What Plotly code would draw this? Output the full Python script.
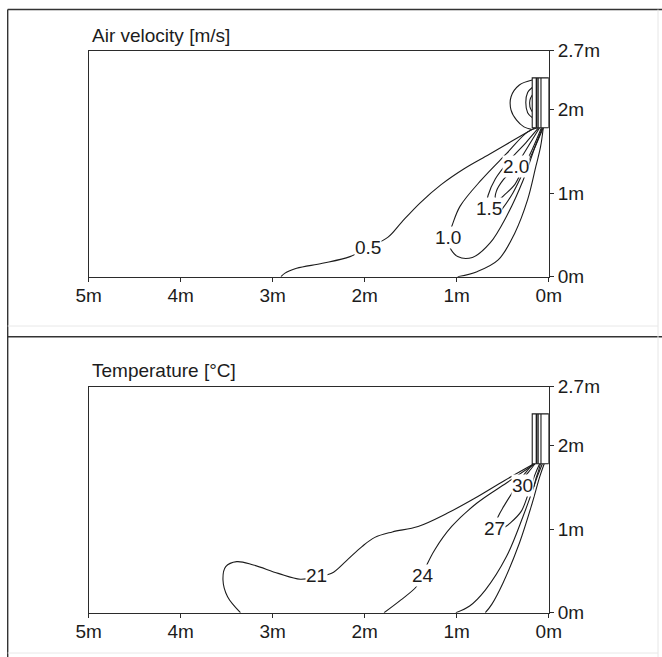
import plotly.graph_objects as go

# ---------------- tick labels ----------------
X_TICK_VALS = [5, 4, 3, 2, 1, 0]
X_TICK_TEXT = ["5m", "4m", "3m", "2m", "1m", "0m"]
Y_TICK_VALS = [0, 1, 2, 2.7]
Y_TICK_TEXT = ["0m", "1m", "2m", "2.7m"]

# ---------------- wall unit (distance from wall, height) ----------------
UNIT_X = [0.0, 0.18]
UNIT_Y = [1.78, 2.375]
UNIT_SLAT_X = [0.135, 0.117, 0.085]

# ---------------- air velocity isolines [m/s] ----------------
VEL_05_OUTER_X = [0.15, 0.40, 0.65, 0.92, 1.17, 1.40, 1.60, 1.75, 1.96, 2.16, 2.46, 2.74, 2.87, 2.91]
VEL_05_OUTER_Y = [1.78, 1.62, 1.46, 1.29, 1.10, 0.88, 0.65, 0.47, 0.35, 0.24, 0.16, 0.10, 0.04, 0.00]
VEL_05_INNER_X = [0.06, 0.09, 0.14, 0.23, 0.37, 0.55, 0.78, 0.99]
VEL_05_INNER_Y = [1.78, 1.55, 1.32, 0.92, 0.52, 0.20, 0.06, 0.00]
VEL_10_X = [0.12, 0.23, 0.46, 0.73, 0.965, 1.055, 1.10, 1.08, 0.99, 0.83, 0.64, 0.46, 0.28, 0.15, 0.07]
VEL_10_Y = [1.78, 1.73, 1.47, 1.16, 0.84, 0.60, 0.47, 0.36, 0.24, 0.23, 0.40, 0.72, 1.15, 1.55, 1.78]
VEL_15_X = [0.11, 0.25, 0.42, 0.58, 0.66, 0.68, 0.66, 0.60, 0.50, 0.39, 0.29, 0.17, 0.06]
VEL_15_Y = [1.78, 1.60, 1.40, 1.17, 0.97, 0.84, 0.72, 0.70, 0.82, 1.00, 1.22, 1.50, 1.78]
VEL_20_X = [0.10, 0.20, 0.30, 0.37, 0.50, 0.57, 0.58, 0.55, 0.47, 0.37, 0.29, 0.18, 0.08]
VEL_20_Y = [1.78, 1.60, 1.42, 1.30, 1.15, 1.02, 0.94, 0.92, 0.99, 1.10, 1.27, 1.52, 1.78]
VEL_LOBE_OUTER_X = [0.18, 0.32, 0.41, 0.41, 0.35, 0.27, 0.19]
VEL_LOBE_OUTER_Y = [2.35, 2.29, 2.15, 1.99, 1.87, 1.79, 1.76]
VEL_LOBE_MID_X = [0.18, 0.23, 0.25, 0.23, 0.18]
VEL_LOBE_MID_Y = [2.26, 2.20, 2.08, 1.96, 1.90]
VEL_LOBE_INNER_X = [0.18, 0.205, 0.205, 0.18]
VEL_LOBE_INNER_Y = [2.17, 2.11, 2.03, 1.97]

VEL_LABELS = ["0.5", "1.0", "1.5", "2.0"]
VEL_LABEL_X = [1.96, 1.10, 0.655, 0.356]
VEL_LABEL_Y = [0.35, 0.47, 0.817, 1.317]

# ---------------- temperature isolines [°C] ----------------
TMP_21_X = [0.175, 0.48, 0.80, 1.10, 1.42, 1.70, 1.89, 2.03, 2.20, 2.36, 2.52, 2.70, 2.94, 3.21, 3.39, 3.51, 3.54, 3.49, 3.35]
TMP_21_Y = [1.77, 1.58, 1.37, 1.19, 1.03, 0.965, 0.90, 0.79, 0.62, 0.47, 0.43, 0.40, 0.47, 0.57, 0.61, 0.55, 0.39, 0.19, 0.00]
TMP_24_X = [0.15, 0.46, 0.78, 1.055, 1.24, 1.33, 1.37, 1.44, 1.61, 1.79]
TMP_24_Y = [1.78, 1.55, 1.31, 1.03, 0.75, 0.56, 0.45, 0.31, 0.15, 0.00]
TMP_A_X = [0.07, 0.12, 0.19, 0.28, 0.46, 0.69, 0.86, 1.01]
TMP_A_Y = [1.78, 1.64, 1.42, 1.15, 0.67, 0.27, 0.08, 0.00]
TMP_B_X = [0.05, 0.10, 0.18, 0.32, 0.50, 0.62, 0.69]
TMP_B_Y = [1.78, 1.62, 1.31, 0.83, 0.35, 0.10, 0.00]
TMP_27_X = [0.17, 0.31, 0.40, 0.49, 0.55, 0.59, 0.55, 0.48, 0.42, 0.30, 0.22, 0.15, 0.10]
TMP_27_Y = [1.78, 1.59, 1.43, 1.27, 1.15, 1.02, 0.98, 1.02, 1.07, 1.21, 1.43, 1.65, 1.78]
TMP_30_X = [0.15, 0.22, 0.28, 0.31, 0.27, 0.21, 0.17, 0.14, 0.11, 0.09]
TMP_30_Y = [1.78, 1.68, 1.60, 1.53, 1.46, 1.45, 1.49, 1.60, 1.70, 1.78]

TMP_LABELS = ["21", "24", "27", "30"]
TMP_LABEL_X = [2.52, 1.364, 0.59, 0.286]
TMP_LABEL_Y = [0.44, 0.45, 1.008, 1.52]

# ---------------- styling ----------------
FONT = "Liberation Sans, Arial, Helvetica, sans-serif"
INK = "#1c1c1c"
AXIS = "#2b2b2b"
FS = 19

W, H = 662, 657
PLOT_X = [88.6 / W, 548.8 / W]
TOP_Y = [1 - 276.7 / H, 1 - 50.7 / H]
BOT_Y = [1 - 612.7 / H, 1 - 386.7 / H]

fig = go.Figure()


def curve(xs, ys, xa, ya):
    fig.add_trace(go.Scatter(
        x=xs, y=ys, mode="lines", xaxis=xa, yaxis=ya,
        line=dict(color=INK, width=1.1, shape="spline", smoothing=1.0),
        hoverinfo="skip", showlegend=False))


def unit(xa, ya):
    x0, x1 = UNIT_X
    y0, y1 = UNIT_Y
    fig.add_trace(go.Scatter(
        x=[x0, x1, x1, x0, x0], y=[y0, y0, y1, y1, y0], mode="lines",
        xaxis=xa, yaxis=ya, fill="toself", fillcolor="white",
        line=dict(color=INK, width=1.1), hoverinfo="skip", showlegend=False))
    widths = [1.4, 1.4, 1.1]
    for sx, w in zip(UNIT_SLAT_X, widths):
        fig.add_trace(go.Scatter(
            x=[sx, sx], y=[y0, y1], mode="lines", xaxis=xa, yaxis=ya,
            line=dict(color=INK, width=w), hoverinfo="skip", showlegend=False))


# air velocity panel
for xs, ys in [(VEL_05_OUTER_X, VEL_05_OUTER_Y), (VEL_05_INNER_X, VEL_05_INNER_Y),
               (VEL_10_X, VEL_10_Y), (VEL_15_X, VEL_15_Y), (VEL_20_X, VEL_20_Y),
               (VEL_LOBE_OUTER_X, VEL_LOBE_OUTER_Y), (VEL_LOBE_MID_X, VEL_LOBE_MID_Y),
               (VEL_LOBE_INNER_X, VEL_LOBE_INNER_Y)]:
    curve(xs, ys, "x", "y")
unit("x", "y")

# temperature panel
for xs, ys in [(TMP_21_X, TMP_21_Y), (TMP_24_X, TMP_24_Y), (TMP_A_X, TMP_A_Y),
               (TMP_B_X, TMP_B_Y), (TMP_27_X, TMP_27_Y), (TMP_30_X, TMP_30_Y)]:
    curve(xs, ys, "x2", "y2")
unit("x2", "y2")

annotations = []
for t, x, y in zip(VEL_LABELS, VEL_LABEL_X, VEL_LABEL_Y):
    annotations.append(dict(text=t, x=x, y=y, xref="x", yref="y", showarrow=False,
                            bgcolor="white", borderpad=0,
                            font=dict(family=FONT, size=FS, color=INK)))
for t, x, y in zip(TMP_LABELS, TMP_LABEL_X, TMP_LABEL_Y):
    annotations.append(dict(text=t, x=x, y=y, xref="x2", yref="y2", showarrow=False,
                            bgcolor="white", borderpad=0,
                            font=dict(family=FONT, size=FS, color=INK)))

annotations.append(dict(text="Air velocity [m/s]", x=90.0 / W, y=1 - 35.5 / H,
                        xref="paper", yref="paper", xanchor="left", yanchor="middle",
                        showarrow=False, font=dict(family=FONT, size=FS, color=INK)))
annotations.append(dict(text="Temperature [°C]", x=90.0 / W, y=1 - 370.5 / H,
                        xref="paper", yref="paper", xanchor="left", yanchor="middle",
                        showarrow=False, font=dict(family=FONT, size=FS, color=INK)))

xcommon = dict(range=[5, 0], tickvals=X_TICK_VALS, ticktext=X_TICK_TEXT,
               showline=True, linecolor=AXIS, linewidth=1.3, mirror=True,
               ticks="outside", ticklen=4, tickwidth=1.2, tickcolor=AXIS,
               showgrid=False, zeroline=False, domain=PLOT_X, fixedrange=True,
               automargin=False, ticklabelstandoff=-3,
               tickfont=dict(family=FONT, size=FS, color=INK))
ycommon = dict(range=[0, 2.7], tickvals=Y_TICK_VALS, ticktext=Y_TICK_TEXT, side="right",
               showline=True, linecolor=AXIS, linewidth=1.3, mirror=True,
               ticks="outside", ticklen=4, tickwidth=1.2, tickcolor=AXIS,
               showgrid=False, zeroline=False, fixedrange=True,
               automargin=False,
               tickfont=dict(family=FONT, size=FS, color=INK))

# outer frame of the two panels
frame = [
    dict(type="line", xref="paper", yref="paper", x0=7.7 / W, x1=7.7 / W, y0=0, y1=1 - 9.5 / H,
         line=dict(color="#333333", width=1.4)),
    dict(type="line", xref="paper", yref="paper", x0=7.7 / W, x1=1, y0=1 - 9.5 / H, y1=1 - 9.5 / H,
         line=dict(color="#333333", width=1.4)),
    dict(type="line", xref="paper", yref="paper", x0=7.7 / W, x1=1, y0=1 - 336.7 / H, y1=1 - 336.7 / H,
         line=dict(color="#333333", width=1.4)),
    dict(type="line", xref="paper", yref="paper", x0=658 / W, x1=658 / W, y0=0, y1=1 - 9.5 / H,
         line=dict(color="#e6e6e6", width=1)),
    dict(type="line", xref="paper", yref="paper", x0=7.7 / W, x1=658 / W, y0=1 - 326 / H, y1=1 - 326 / H,
         line=dict(color="#e8e8e8", width=1)),
    dict(type="line", xref="paper", yref="paper", x0=7.7 / W, x1=658 / W, y0=1 - 653 / H, y1=1 - 653 / H,
         line=dict(color="#e8e8e8", width=1)),
]

fig.update_layout(
    width=W, height=H,
    margin=dict(l=0, r=0, t=0, b=0, pad=0, autoexpand=False),
    paper_bgcolor="white", plot_bgcolor="white",
    xaxis=dict(xcommon, anchor="y"),
    yaxis=dict(ycommon, anchor="x", domain=TOP_Y),
    xaxis2=dict(xcommon, anchor="y2"),
    yaxis2=dict(ycommon, anchor="x2", domain=BOT_Y),
    annotations=annotations,
    shapes=frame,
    showlegend=False,
)

fig.write_html("out.html")
